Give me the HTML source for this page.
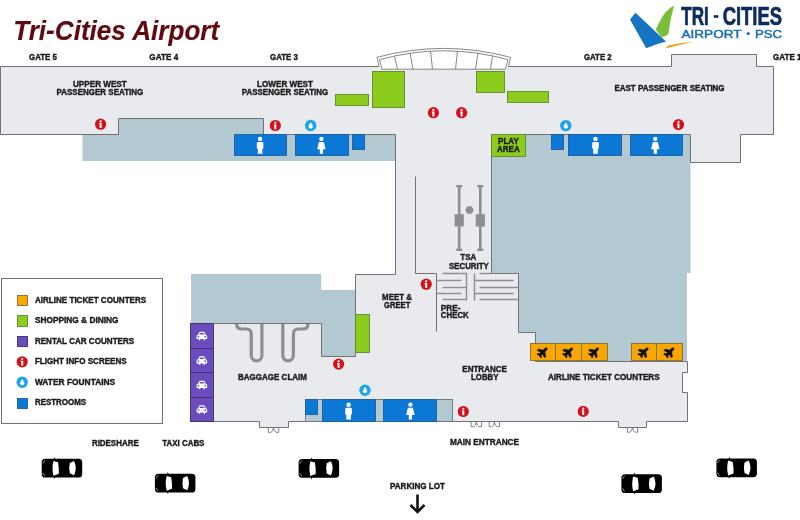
<!DOCTYPE html>
<html><head><meta charset="utf-8"><style>
html,body{margin:0;padding:0;background:#fff;width:800px;height:520px;overflow:hidden}
svg{display:block;position:absolute;left:0;top:0;will-change:transform}
</style></head><body>
<svg width="800" height="520" viewBox="0 0 800 520"><rect x="82.5" y="118" width="313.50" height="43.00" fill="#b3c9d2"/>
<polygon points="191,274 321.2,274 321.2,290 355.2,290 355.2,356.3 191,356.3" fill="#b3c9d2"/>
<polygon points="491,134 690.5,134 690.5,273 687,273 687,361 535,361 535,332 518.5,332 518.5,274 491,274" fill="#b3c9d2"/>
<polygon points="0.5,66.5 671.5,66.5 671.5,54.5 756.5,54.5 756.5,66.5 773.5,66.5 773.5,134.5 740.5,134.5 740.5,162.5 690.5,162.5 690.5,134.5 491.5,134.5 491.5,273.5 518.5,273.5 518.5,332.5 535.5,332.5 535.5,361.5 687.5,361.5 687.5,372.5 682.5,372.5 682.5,392.5 687.5,392.5 687.5,421.5 646.5,421.5 646.5,427.5 618.5,427.5 618.5,421.5 288.5,421.5 288.5,427.5 259.5,427.5 259.5,421.5 191.5,421.5 191.5,323.5 321.5,323.5 321.5,356.5 355.5,356.5 355.5,274.5 395.5,274.5 395.5,134.5 263.5,134.5 263.5,118.5 118.5,118.5 118.5,134.5 0.5,134.5" fill="#e9eaee" stroke="#707276" stroke-width="1.0" stroke-linejoin="miter"/>
<path d="M377,57.3 Q443.7,39.5 510.5,57.3 L508.5,66.5 L505.5,69.2 L382,69.2 L379,66.5 Z" fill="#ffffff"/>
<path d="M377,57.3 Q443.7,39.5 510.5,57.3 L508.5,66.5 M377,57.3 L379,66.5" fill="none" stroke="#707276" stroke-width="0.85"/>
<path d="M379.5,59.6 Q443.7,42 508,59.6 L505.5,69.2 L382,69.2 Z" fill="none" stroke="#707276" stroke-width="0.85"/>
<line x1="394.5" y1="56.3" x2="397.5" y2="69.2" stroke="#707276" stroke-width="0.85"/>
<line x1="410" y1="52.8" x2="413" y2="69.2" stroke="#707276" stroke-width="0.85"/>
<line x1="430.5" y1="51" x2="432.5" y2="69.2" stroke="#707276" stroke-width="0.85"/>
<line x1="457.5" y1="51" x2="455.5" y2="69.2" stroke="#707276" stroke-width="0.85"/>
<line x1="478" y1="52.8" x2="475.5" y2="69.2" stroke="#707276" stroke-width="0.85"/>
<line x1="492.5" y1="55.8" x2="490.5" y2="69.2" stroke="#707276" stroke-width="0.85"/>
<rect x="305.5" y="399.5" width="147.00" height="22.00" fill="#b3c9d2" stroke="#707276" stroke-width="0.9"/>
<polyline points="415.5,176.5 415.5,273.5 436.5,273.5 436.5,331.5" fill="none" stroke="#707276" stroke-width="1.0" stroke-linecap="butt"/>
<polyline points="442.5,273.5 466.5,273.5 466.5,300.5" fill="none" stroke="#8d8e92" stroke-width="1.4" stroke-linecap="butt"/>
<polyline points="436.5,280.5 461.5,280.5" fill="none" stroke="#8d8e92" stroke-width="1.4" stroke-linecap="butt"/>
<polyline points="442.5,287.5 466.5,287.5" fill="none" stroke="#8d8e92" stroke-width="1.4" stroke-linecap="butt"/>
<polyline points="436.5,293.5 461.5,293.5" fill="none" stroke="#8d8e92" stroke-width="1.4" stroke-linecap="butt"/>
<polyline points="442.5,299.5 466.5,299.5" fill="none" stroke="#8d8e92" stroke-width="1.4" stroke-linecap="butt"/>
<polyline points="474.5,273.5 474.5,300.5" fill="none" stroke="#8d8e92" stroke-width="1.4" stroke-linecap="butt"/>
<polyline points="479.5,273.5 491.5,273.5" fill="none" stroke="#8d8e92" stroke-width="1.4" stroke-linecap="butt"/>
<polyline points="474.5,280.5 513.5,280.5" fill="none" stroke="#8d8e92" stroke-width="1.4" stroke-linecap="butt"/>
<polyline points="479.5,287.5 518.5,287.5" fill="none" stroke="#8d8e92" stroke-width="1.4" stroke-linecap="butt"/>
<polyline points="474.5,293.5 513.5,293.5" fill="none" stroke="#8d8e92" stroke-width="1.4" stroke-linecap="butt"/>
<polyline points="479.5,299.5 518.5,299.5" fill="none" stroke="#8d8e92" stroke-width="1.4" stroke-linecap="butt"/>
<rect x="457.9" y="186" width="2.60" height="64.00" fill="#8d8e92"/>
<rect x="456.2" y="185" width="6.00" height="2.30" fill="#8d8e92"/>
<rect x="456.2" y="248.6" width="6.00" height="2.40" fill="#8d8e92"/>
<rect x="454.59999999999997" y="214.2" width="9.20" height="12.30" fill="#8d8e92"/>
<rect x="479.0" y="186" width="2.60" height="64.00" fill="#8d8e92"/>
<rect x="477.3" y="185" width="6.00" height="2.30" fill="#8d8e92"/>
<rect x="477.3" y="248.6" width="6.00" height="2.40" fill="#8d8e92"/>
<rect x="475.7" y="214.2" width="9.20" height="12.30" fill="#8d8e92"/>
<polygon points="473.8,210 471.65,213.7 467.35,213.7 465.2,210 467.35,206.3 471.65,206.3" fill="#8d8e92"/>
<path d="M236.6,323 V324 Q236.6,329 241.6,329 H246.25 Q251.25,329 251.25,334 V355.5 A5.3,5.3 0 0 0 261.9,355.5 V323" fill="none" stroke="#8d8e92" stroke-width="3.2"/>
<path d="M282.8,323 V355.5 A5.3,5.3 0 0 0 293.4,355.5 V334 Q293.4,329 298.4,329 H303 Q308,329 308,324 V323" fill="none" stroke="#8d8e92" stroke-width="3.2"/>
<polyline points="191.5,323.5 321.5,323.5" fill="none" stroke="#707276" stroke-width="1.0" stroke-linecap="butt"/>
<path d="M268.3,427.2 V432.4 H270.7 Q272.90000000000003,431.8 273.5,427.8 Q274.1,431.8 276.3,432.4 H278.7 V427.2" fill="none" stroke="#707276" stroke-width="0.9"/>
<path d="M471.2,421.5 V426.7 H473.59999999999997 Q475.8,426.1 476.4,422.1 Q477.0,426.1 479.2,426.7 H481.59999999999997 V421.5" fill="none" stroke="#707276" stroke-width="0.9"/>
<path d="M489.2,421.5 V426.7 H491.59999999999997 Q493.8,426.1 494.4,422.1 Q495.0,426.1 497.2,426.7 H499.59999999999997 V421.5" fill="none" stroke="#707276" stroke-width="0.9"/>
<path d="M627.3,427 V432.2 H629.6999999999999 Q631.9,431.6 632.5,427.6 Q633.0999999999999,431.6 635.3,432.2 H637.6999999999999 V427" fill="none" stroke="#707276" stroke-width="0.9"/>
<rect x="335.5" y="94.5" width="33.00" height="11.00" fill="#8dcc1c" stroke="#5d8a2a" stroke-width="0.9"/>
<rect x="372.5" y="71.5" width="32.00" height="36.00" fill="#8dcc1c" stroke="#5d8a2a" stroke-width="0.9"/>
<rect x="476.5" y="71.5" width="28.00" height="21.00" fill="#8dcc1c" stroke="#5d8a2a" stroke-width="0.9"/>
<rect x="507.5" y="91.5" width="41.00" height="11.00" fill="#8dcc1c" stroke="#5d8a2a" stroke-width="0.9"/>
<rect x="355.5" y="314.5" width="14.00" height="38.00" fill="#8dcc1c" stroke="#5d8a2a" stroke-width="0.9"/>
<rect x="491.5" y="134.5" width="34.00" height="22.00" fill="#8dcc1c" stroke="#5d8a2a" stroke-width="0.9"/>
<rect x="234.5" y="134.5" width="52.00" height="21.00" fill="#0b78d6" stroke="#1d5f9e" stroke-width="0.9"/>
<rect x="295.5" y="134.5" width="53.00" height="21.00" fill="#0b78d6" stroke="#1d5f9e" stroke-width="0.9"/>
<rect x="352.5" y="134.5" width="12.00" height="15.00" fill="#0b78d6" stroke="#1d5f9e" stroke-width="0.9"/>
<rect x="551.5" y="134.5" width="12.00" height="15.00" fill="#0b78d6" stroke="#1d5f9e" stroke-width="0.9"/>
<rect x="568.5" y="134.5" width="53.00" height="21.00" fill="#0b78d6" stroke="#1d5f9e" stroke-width="0.9"/>
<rect x="630.5" y="134.5" width="52.00" height="21.00" fill="#0b78d6" stroke="#1d5f9e" stroke-width="0.9"/>
<rect x="305.5" y="399.5" width="12.00" height="15.00" fill="#0b78d6" stroke="#1d5f9e" stroke-width="0.9"/>
<rect x="322.5" y="399.5" width="53.00" height="22.00" fill="#0b78d6" stroke="#1d5f9e" stroke-width="0.9"/>
<rect x="383.5" y="399.5" width="53.00" height="22.00" fill="#0b78d6" stroke="#1d5f9e" stroke-width="0.9"/>
<rect x="530.5" y="343.5" width="25.00" height="17.00" fill="#f8a600" stroke="#8a6a2a" stroke-width="0.9"/>
<rect x="555.5" y="343.5" width="26.00" height="17.00" fill="#f8a600" stroke="#8a6a2a" stroke-width="0.9"/>
<rect x="581.5" y="343.5" width="26.00" height="17.00" fill="#f8a600" stroke="#8a6a2a" stroke-width="0.9"/>
<rect x="631.5" y="343.5" width="25.00" height="17.00" fill="#f8a600" stroke="#8a6a2a" stroke-width="0.9"/>
<rect x="656.5" y="343.5" width="26.00" height="17.00" fill="#f8a600" stroke="#8a6a2a" stroke-width="0.9"/>
<rect x="190.5" y="323.5" width="23.00" height="25.00" fill="#6a4cbd" stroke="#3b2f6e" stroke-width="0.9"/>
<rect x="190.5" y="348.5" width="23.00" height="24.00" fill="#6a4cbd" stroke="#3b2f6e" stroke-width="0.9"/>
<rect x="190.5" y="372.5" width="23.00" height="25.00" fill="#6a4cbd" stroke="#3b2f6e" stroke-width="0.9"/>
<rect x="190.5" y="397.5" width="23.00" height="24.00" fill="#6a4cbd" stroke="#3b2f6e" stroke-width="0.9"/>
<circle cx="100.6" cy="124.2" r="5.6" fill="#d1121b"/>
<circle cx="100.6" cy="121.45" r="1.1" fill="#fff"/>
<path d="M99.0,123.10000000000001 H101.6 V127.9 H99.6 V124.0 H99.0 Z" fill="#fff"/>
<circle cx="275.3" cy="125.5" r="5.6" fill="#d1121b"/>
<circle cx="275.3" cy="122.75" r="1.1" fill="#fff"/>
<path d="M273.7,124.4 H276.3 V129.2 H274.3 V125.3 H273.7 Z" fill="#fff"/>
<circle cx="433.4" cy="112.7" r="5.6" fill="#d1121b"/>
<circle cx="433.4" cy="109.95" r="1.1" fill="#fff"/>
<path d="M431.79999999999995,111.60000000000001 H434.4 V116.4 H432.4 V112.5 H431.79999999999995 Z" fill="#fff"/>
<circle cx="461.6" cy="112.7" r="5.6" fill="#d1121b"/>
<circle cx="461.6" cy="109.95" r="1.1" fill="#fff"/>
<path d="M460.0,111.60000000000001 H462.6 V116.4 H460.6 V112.5 H460.0 Z" fill="#fff"/>
<circle cx="678.5" cy="124.6" r="5.6" fill="#d1121b"/>
<circle cx="678.5" cy="121.85" r="1.1" fill="#fff"/>
<path d="M676.9,123.5 H679.5 V128.29999999999998 H677.5 V124.39999999999999 H676.9 Z" fill="#fff"/>
<circle cx="426.2" cy="284.2" r="5.6" fill="#d1121b"/>
<circle cx="426.2" cy="281.45" r="1.1" fill="#fff"/>
<path d="M424.59999999999997,283.09999999999997 H427.2 V287.9 H425.2 V284.0 H424.59999999999997 Z" fill="#fff"/>
<circle cx="338.6" cy="364.1" r="5.6" fill="#d1121b"/>
<circle cx="338.6" cy="361.35" r="1.1" fill="#fff"/>
<path d="M337.0,363.0 H339.6 V367.8 H337.6 V363.90000000000003 H337.0 Z" fill="#fff"/>
<circle cx="463.3" cy="411.5" r="5.6" fill="#d1121b"/>
<circle cx="463.3" cy="408.75" r="1.1" fill="#fff"/>
<path d="M461.7,410.4 H464.3 V415.2 H462.3 V411.3 H461.7 Z" fill="#fff"/>
<circle cx="583.2" cy="411.4" r="5.6" fill="#d1121b"/>
<circle cx="583.2" cy="408.65" r="1.1" fill="#fff"/>
<path d="M581.6,410.29999999999995 H584.2 V415.09999999999997 H582.2 V411.2 H581.6 Z" fill="#fff"/>
<circle cx="310.7" cy="125.5" r="5.7" fill="#1aa6e8"/>
<path d="M310.7,122.3 Q313.3,125.8 312.8,127.0 A2.2,2.2 0 0 1 308.59999999999997,127.0 Q308.09999999999997,125.8 310.7,122.3 Z" fill="#fff"/>
<circle cx="565.8" cy="125.6" r="5.7" fill="#1aa6e8"/>
<path d="M565.8,122.39999999999999 Q568.4,125.89999999999999 567.9,127.1 A2.2,2.2 0 0 1 563.6999999999999,127.1 Q563.1999999999999,125.89999999999999 565.8,122.39999999999999 Z" fill="#fff"/>
<circle cx="365" cy="390.3" r="5.7" fill="#1aa6e8"/>
<path d="M365,387.1 Q367.6,390.6 367.1,391.8 A2.2,2.2 0 0 1 362.9,391.8 Q362.4,390.6 365,387.1 Z" fill="#fff"/>
<circle cx="260.1" cy="138.9" r="2.2" fill="#fff"/>
<path d="M256.8,143.20000000000002 Q256.8,141.9 258.1,141.9 H262.1 Q263.40000000000003,141.9 263.40000000000003,143.20000000000002 V148.60000000000002 H262.40000000000003 V153.70000000000002 H257.8 V148.60000000000002 H256.8 Z" fill="#fff"/>
<circle cx="321.4" cy="138.9" r="2.15" fill="#fff"/>
<path d="M318.9,141.9 H323.9 L325.59999999999997,149.3 H323.0 V153.70000000000002 H319.79999999999995 V149.3 H317.2 Z" fill="#fff"/>
<circle cx="595.5" cy="138.9" r="2.2" fill="#fff"/>
<path d="M592.2,143.20000000000002 Q592.2,141.9 593.5,141.9 H597.5 Q598.8,141.9 598.8,143.20000000000002 V148.60000000000002 H597.8 V153.70000000000002 H593.2 V148.60000000000002 H592.2 Z" fill="#fff"/>
<circle cx="655.3" cy="138.9" r="2.15" fill="#fff"/>
<path d="M652.8,141.9 H657.8 L659.5,149.3 H656.9 V153.70000000000002 H653.6999999999999 V149.3 H651.0999999999999 Z" fill="#fff"/>
<circle cx="348.6" cy="404.70000000000005" r="2.2" fill="#fff"/>
<path d="M345.3,409.0 Q345.3,407.70000000000005 346.6,407.70000000000005 H350.6 Q351.90000000000003,407.70000000000005 351.90000000000003,409.0 V414.40000000000003 H350.90000000000003 V419.5 H346.3 V414.40000000000003 H345.3 Z" fill="#fff"/>
<circle cx="410.4" cy="404.70000000000005" r="2.15" fill="#fff"/>
<path d="M407.9,407.70000000000005 H412.9 L414.59999999999997,415.1 H412.0 V419.5 H408.79999999999995 V415.1 H406.2 Z" fill="#fff"/>
<g transform="translate(201.85,336.2)"><path d="M-5.3,0.2 Q-5.3,-1.3 -3.8,-1.5 L-2.7,-3.9 Q-2.4,-4.4 -1.8,-4.4 H1.8 Q2.4,-4.4 2.7,-3.9 L3.8,-1.5 Q5.3,-1.3 5.3,0.2 V2.7 H3.1 V4.0 H1.6 V2.7 H-1.6 V4.0 H-3.1 V2.7 H-5.3 Z" fill="#fff"/><path d="M-2.6,-1.6 L-1.9,-3.3 H1.9 L2.6,-1.6 Z" fill="#6a4cbd"/><circle cx="-3.4" cy="0.5" r="0.85" fill="#6a4cbd"/><circle cx="3.4" cy="0.5" r="0.85" fill="#6a4cbd"/></g>
<g transform="translate(201.85,360.7)"><path d="M-5.3,0.2 Q-5.3,-1.3 -3.8,-1.5 L-2.7,-3.9 Q-2.4,-4.4 -1.8,-4.4 H1.8 Q2.4,-4.4 2.7,-3.9 L3.8,-1.5 Q5.3,-1.3 5.3,0.2 V2.7 H3.1 V4.0 H1.6 V2.7 H-1.6 V4.0 H-3.1 V2.7 H-5.3 Z" fill="#fff"/><path d="M-2.6,-1.6 L-1.9,-3.3 H1.9 L2.6,-1.6 Z" fill="#6a4cbd"/><circle cx="-3.4" cy="0.5" r="0.85" fill="#6a4cbd"/><circle cx="3.4" cy="0.5" r="0.85" fill="#6a4cbd"/></g>
<g transform="translate(201.85,385.2)"><path d="M-5.3,0.2 Q-5.3,-1.3 -3.8,-1.5 L-2.7,-3.9 Q-2.4,-4.4 -1.8,-4.4 H1.8 Q2.4,-4.4 2.7,-3.9 L3.8,-1.5 Q5.3,-1.3 5.3,0.2 V2.7 H3.1 V4.0 H1.6 V2.7 H-1.6 V4.0 H-3.1 V2.7 H-5.3 Z" fill="#fff"/><path d="M-2.6,-1.6 L-1.9,-3.3 H1.9 L2.6,-1.6 Z" fill="#6a4cbd"/><circle cx="-3.4" cy="0.5" r="0.85" fill="#6a4cbd"/><circle cx="3.4" cy="0.5" r="0.85" fill="#6a4cbd"/></g>
<g transform="translate(201.85,409.7)"><path d="M-5.3,0.2 Q-5.3,-1.3 -3.8,-1.5 L-2.7,-3.9 Q-2.4,-4.4 -1.8,-4.4 H1.8 Q2.4,-4.4 2.7,-3.9 L3.8,-1.5 Q5.3,-1.3 5.3,0.2 V2.7 H3.1 V4.0 H1.6 V2.7 H-1.6 V4.0 H-3.1 V2.7 H-5.3 Z" fill="#fff"/><path d="M-2.6,-1.6 L-1.9,-3.3 H1.9 L2.6,-1.6 Z" fill="#6a4cbd"/><circle cx="-3.4" cy="0.5" r="0.85" fill="#6a4cbd"/><circle cx="3.4" cy="0.5" r="0.85" fill="#6a4cbd"/></g>
<g transform="translate(542.9,352.1) rotate(45) scale(1.0)"><path d="M0,-5.8 C1,-5.8 1.3,-4.6 1.3,-3.5 L1.3,-1.6 L5.3,1.0 L5.3,2.9 L1.3,1.7 L1.3,3.4 L2.7,4.5 L2.7,5.8 L0,5.1 L-2.7,5.8 L-2.7,4.5 L-1.3,3.4 L-1.3,1.7 L-5.3,2.9 L-5.3,1.0 L-1.3,-1.6 L-1.3,-3.5 C-1.3,-4.6 -1,-5.8 0,-5.8 Z" fill="#111" stroke="#111" stroke-width="0.4" stroke-linejoin="round"/></g>
<g transform="translate(568.4,352.1) rotate(45) scale(1.0)"><path d="M0,-5.8 C1,-5.8 1.3,-4.6 1.3,-3.5 L1.3,-1.6 L5.3,1.0 L5.3,2.9 L1.3,1.7 L1.3,3.4 L2.7,4.5 L2.7,5.8 L0,5.1 L-2.7,5.8 L-2.7,4.5 L-1.3,3.4 L-1.3,1.7 L-5.3,2.9 L-5.3,1.0 L-1.3,-1.6 L-1.3,-3.5 C-1.3,-4.6 -1,-5.8 0,-5.8 Z" fill="#111" stroke="#111" stroke-width="0.4" stroke-linejoin="round"/></g>
<g transform="translate(594.3,352.1) rotate(45) scale(1.0)"><path d="M0,-5.8 C1,-5.8 1.3,-4.6 1.3,-3.5 L1.3,-1.6 L5.3,1.0 L5.3,2.9 L1.3,1.7 L1.3,3.4 L2.7,4.5 L2.7,5.8 L0,5.1 L-2.7,5.8 L-2.7,4.5 L-1.3,3.4 L-1.3,1.7 L-5.3,2.9 L-5.3,1.0 L-1.3,-1.6 L-1.3,-3.5 C-1.3,-4.6 -1,-5.8 0,-5.8 Z" fill="#111" stroke="#111" stroke-width="0.4" stroke-linejoin="round"/></g>
<g transform="translate(643.8,352.1) rotate(45) scale(1.0)"><path d="M0,-5.8 C1,-5.8 1.3,-4.6 1.3,-3.5 L1.3,-1.6 L5.3,1.0 L5.3,2.9 L1.3,1.7 L1.3,3.4 L2.7,4.5 L2.7,5.8 L0,5.1 L-2.7,5.8 L-2.7,4.5 L-1.3,3.4 L-1.3,1.7 L-5.3,2.9 L-5.3,1.0 L-1.3,-1.6 L-1.3,-3.5 C-1.3,-4.6 -1,-5.8 0,-5.8 Z" fill="#111" stroke="#111" stroke-width="0.4" stroke-linejoin="round"/></g>
<g transform="translate(669.6,352.1) rotate(45) scale(1.0)"><path d="M0,-5.8 C1,-5.8 1.3,-4.6 1.3,-3.5 L1.3,-1.6 L5.3,1.0 L5.3,2.9 L1.3,1.7 L1.3,3.4 L2.7,4.5 L2.7,5.8 L0,5.1 L-2.7,5.8 L-2.7,4.5 L-1.3,3.4 L-1.3,1.7 L-5.3,2.9 L-5.3,1.0 L-1.3,-1.6 L-1.3,-3.5 C-1.3,-4.6 -1,-5.8 0,-5.8 Z" fill="#111" stroke="#111" stroke-width="0.4" stroke-linejoin="round"/></g>
<g transform="translate(41.7,458.7)"><rect x="0" y="0" width="40.5" height="18.8" rx="3.6" fill="#000"/><path d="M12.1,0.5 L12.9,-1.6 L13.7,0.5 Z M12.1,18.3 L12.9,20.4 L13.7,18.3 Z" fill="#000"/><path d="M11.8,2.2 L16.3,3.6 Q17.5,9.8 17.1,15.1 L11.8,17.1 Q9.8,9.7 11.8,2.2 Z" fill="#fff"/><path d="M28.1,4.2 L32.3,2.2 Q35.8,9.3 32.3,16.5 L28.1,14.6 Q26.9,9.4 28.1,4.2 Z" fill="#fff"/><path d="M1.2,4.6 Q1.6,2.6 3.4,1.6 M1.2,14.2 Q1.6,16.2 3.4,17.2" stroke="#fff" stroke-width="0.6" fill="none"/></g>
<g transform="translate(154.9,473.7)"><rect x="0" y="0" width="40.5" height="18.8" rx="3.6" fill="#000"/><path d="M12.1,0.5 L12.9,-1.6 L13.7,0.5 Z M12.1,18.3 L12.9,20.4 L13.7,18.3 Z" fill="#000"/><path d="M11.8,2.2 L16.3,3.6 Q17.5,9.8 17.1,15.1 L11.8,17.1 Q9.8,9.7 11.8,2.2 Z" fill="#fff"/><path d="M28.1,4.2 L32.3,2.2 Q35.8,9.3 32.3,16.5 L28.1,14.6 Q26.9,9.4 28.1,4.2 Z" fill="#fff"/><path d="M1.2,4.6 Q1.6,2.6 3.4,1.6 M1.2,14.2 Q1.6,16.2 3.4,17.2" stroke="#fff" stroke-width="0.6" fill="none"/></g>
<g transform="translate(298.6,459.0)"><rect x="0" y="0" width="40.5" height="18.8" rx="3.6" fill="#000"/><path d="M12.1,0.5 L12.9,-1.6 L13.7,0.5 Z M12.1,18.3 L12.9,20.4 L13.7,18.3 Z" fill="#000"/><path d="M11.8,2.2 L16.3,3.6 Q17.5,9.8 17.1,15.1 L11.8,17.1 Q9.8,9.7 11.8,2.2 Z" fill="#fff"/><path d="M28.1,4.2 L32.3,2.2 Q35.8,9.3 32.3,16.5 L28.1,14.6 Q26.9,9.4 28.1,4.2 Z" fill="#fff"/><path d="M1.2,4.6 Q1.6,2.6 3.4,1.6 M1.2,14.2 Q1.6,16.2 3.4,17.2" stroke="#fff" stroke-width="0.6" fill="none"/></g>
<g transform="translate(621.4,474.2)"><rect x="0" y="0" width="40.5" height="18.8" rx="3.6" fill="#000"/><path d="M12.1,0.5 L12.9,-1.6 L13.7,0.5 Z M12.1,18.3 L12.9,20.4 L13.7,18.3 Z" fill="#000"/><path d="M11.8,2.2 L16.3,3.6 Q17.5,9.8 17.1,15.1 L11.8,17.1 Q9.8,9.7 11.8,2.2 Z" fill="#fff"/><path d="M28.1,4.2 L32.3,2.2 Q35.8,9.3 32.3,16.5 L28.1,14.6 Q26.9,9.4 28.1,4.2 Z" fill="#fff"/><path d="M1.2,4.6 Q1.6,2.6 3.4,1.6 M1.2,14.2 Q1.6,16.2 3.4,17.2" stroke="#fff" stroke-width="0.6" fill="none"/></g>
<g transform="translate(716.4,458.4)"><rect x="0" y="0" width="40.5" height="18.8" rx="3.6" fill="#000"/><path d="M12.1,0.5 L12.9,-1.6 L13.7,0.5 Z M12.1,18.3 L12.9,20.4 L13.7,18.3 Z" fill="#000"/><path d="M11.8,2.2 L16.3,3.6 Q17.5,9.8 17.1,15.1 L11.8,17.1 Q9.8,9.7 11.8,2.2 Z" fill="#fff"/><path d="M28.1,4.2 L32.3,2.2 Q35.8,9.3 32.3,16.5 L28.1,14.6 Q26.9,9.4 28.1,4.2 Z" fill="#fff"/><path d="M1.2,4.6 Q1.6,2.6 3.4,1.6 M1.2,14.2 Q1.6,16.2 3.4,17.2" stroke="#fff" stroke-width="0.6" fill="none"/></g>
<path d="M417.5,494.5 V512" stroke="#111" stroke-width="2.6" fill="none"/>
<path d="M410.5,505 L417.5,512 L424.5,505" stroke="#111" stroke-width="2.6" fill="none"/>
<rect x="1.5" y="278.5" width="161.00" height="145.00" fill="#ffffff" stroke="#707276" stroke-width="1.0"/>
<rect x="17.5" y="295.5" width="10.00" height="10.00" fill="#f8a600" stroke="#8a6a2a" stroke-width="0.9"/>
<rect x="17.5" y="315.5" width="10.00" height="11.00" fill="#8dcc1c" stroke="#5d8a2a" stroke-width="0.9"/>
<rect x="17.5" y="336.5" width="10.00" height="10.00" fill="#6a4cbd" stroke="#3b2f6e" stroke-width="0.9"/>
<circle cx="22.2" cy="361.8" r="5.6" fill="#d1121b"/>
<circle cx="22.2" cy="359.05" r="1.1" fill="#fff"/>
<path d="M20.599999999999998,360.7 H23.2 V365.5 H21.2 V361.6 H20.599999999999998 Z" fill="#fff"/>
<circle cx="22.2" cy="382.3" r="5.7" fill="#1aa6e8"/>
<path d="M22.2,379.1 Q24.8,382.6 24.3,383.8 A2.2,2.2 0 0 1 20.099999999999998,383.8 Q19.599999999999998,382.6 22.2,379.1 Z" fill="#fff"/>
<rect x="17.5" y="398.5" width="10.00" height="10.00" fill="#0b78d6" stroke="#1d5f9e" stroke-width="0.9"/>
<text x="29" y="59.8" font-family="Liberation Sans" font-weight="bold" font-style="normal" font-size="8.2" fill="#1b1b1d" stroke="#1b1b1d" stroke-width="0.38" textLength="28.00" lengthAdjust="spacingAndGlyphs">GATE 5</text>
<text x="149.3" y="59.8" font-family="Liberation Sans" font-weight="bold" font-style="normal" font-size="8.2" fill="#1b1b1d" stroke="#1b1b1d" stroke-width="0.38" textLength="28.90" lengthAdjust="spacingAndGlyphs">GATE 4</text>
<text x="270" y="59.8" font-family="Liberation Sans" font-weight="bold" font-style="normal" font-size="8.2" fill="#1b1b1d" stroke="#1b1b1d" stroke-width="0.38" textLength="28.00" lengthAdjust="spacingAndGlyphs">GATE 3</text>
<text x="584" y="59.8" font-family="Liberation Sans" font-weight="bold" font-style="normal" font-size="8.2" fill="#1b1b1d" stroke="#1b1b1d" stroke-width="0.38" textLength="27.60" lengthAdjust="spacingAndGlyphs">GATE 2</text>
<text x="773" y="59.8" font-family="Liberation Sans" font-weight="bold" font-style="normal" font-size="8.2" fill="#1b1b1d" stroke="#1b1b1d" stroke-width="0.38" textLength="28.50" lengthAdjust="spacingAndGlyphs">GATE 1</text>
<text x="73" y="87.0" font-family="Liberation Sans" font-weight="bold" font-style="normal" font-size="8.2" fill="#1b1b1d" stroke="#1b1b1d" stroke-width="0.38" textLength="53.75" lengthAdjust="spacingAndGlyphs">UPPER WEST</text>
<text x="56.5" y="95.1" font-family="Liberation Sans" font-weight="bold" font-style="normal" font-size="8.2" fill="#1b1b1d" stroke="#1b1b1d" stroke-width="0.38" textLength="86.75" lengthAdjust="spacingAndGlyphs">PASSENGER SEATING</text>
<text x="257" y="87.0" font-family="Liberation Sans" font-weight="bold" font-style="normal" font-size="8.2" fill="#1b1b1d" stroke="#1b1b1d" stroke-width="0.38" textLength="56.00" lengthAdjust="spacingAndGlyphs">LOWER WEST</text>
<text x="241.75" y="95.1" font-family="Liberation Sans" font-weight="bold" font-style="normal" font-size="8.2" fill="#1b1b1d" stroke="#1b1b1d" stroke-width="0.38" textLength="86.50" lengthAdjust="spacingAndGlyphs">PASSENGER SEATING</text>
<text x="614.4" y="91.1" font-family="Liberation Sans" font-weight="bold" font-style="normal" font-size="8.2" fill="#1b1b1d" stroke="#1b1b1d" stroke-width="0.38" textLength="110.20" lengthAdjust="spacingAndGlyphs">EAST PASSENGER SEATING</text>
<text x="498" y="143.7" font-family="Liberation Sans" font-weight="bold" font-style="normal" font-size="8.2" fill="#1b1b1d" stroke="#1b1b1d" stroke-width="0.38" textLength="20.80" lengthAdjust="spacingAndGlyphs">PLAY</text>
<text x="497" y="151.8" font-family="Liberation Sans" font-weight="bold" font-style="normal" font-size="8.2" fill="#1b1b1d" stroke="#1b1b1d" stroke-width="0.38" textLength="22.70" lengthAdjust="spacingAndGlyphs">AREA</text>
<text x="460.3" y="260.3" font-family="Liberation Sans" font-weight="bold" font-style="normal" font-size="8.2" fill="#1b1b1d" stroke="#1b1b1d" stroke-width="0.38" textLength="16.00" lengthAdjust="spacingAndGlyphs">TSA</text>
<text x="449" y="268.7" font-family="Liberation Sans" font-weight="bold" font-style="normal" font-size="8.2" fill="#1b1b1d" stroke="#1b1b1d" stroke-width="0.38" textLength="39.80" lengthAdjust="spacingAndGlyphs">SECURITY</text>
<text x="382.1" y="299.7" font-family="Liberation Sans" font-weight="bold" font-style="normal" font-size="8.2" fill="#1b1b1d" stroke="#1b1b1d" stroke-width="0.38" textLength="29.80" lengthAdjust="spacingAndGlyphs">MEET &amp;</text>
<text x="384" y="308.0" font-family="Liberation Sans" font-weight="bold" font-style="normal" font-size="8.2" fill="#1b1b1d" stroke="#1b1b1d" stroke-width="0.38" textLength="26.40" lengthAdjust="spacingAndGlyphs">GREET</text>
<text x="440.8" y="311.0" font-family="Liberation Sans" font-weight="bold" font-style="normal" font-size="8.2" fill="#1b1b1d" stroke="#1b1b1d" stroke-width="0.38" textLength="19.70" lengthAdjust="spacingAndGlyphs">PRE-</text>
<text x="440.8" y="318.3" font-family="Liberation Sans" font-weight="bold" font-style="normal" font-size="8.2" fill="#1b1b1d" stroke="#1b1b1d" stroke-width="0.38" textLength="28.00" lengthAdjust="spacingAndGlyphs">CHECK</text>
<text x="238" y="379.9" font-family="Liberation Sans" font-weight="bold" font-style="normal" font-size="8.2" fill="#1b1b1d" stroke="#1b1b1d" stroke-width="0.38" textLength="69.00" lengthAdjust="spacingAndGlyphs">BAGGAGE CLAIM</text>
<text x="462.3" y="371.8" font-family="Liberation Sans" font-weight="bold" font-style="normal" font-size="8.2" fill="#1b1b1d" stroke="#1b1b1d" stroke-width="0.38" textLength="44.60" lengthAdjust="spacingAndGlyphs">ENTRANCE</text>
<text x="471" y="379.9" font-family="Liberation Sans" font-weight="bold" font-style="normal" font-size="8.2" fill="#1b1b1d" stroke="#1b1b1d" stroke-width="0.38" textLength="27.50" lengthAdjust="spacingAndGlyphs">LOBBY</text>
<text x="548" y="380.1" font-family="Liberation Sans" font-weight="bold" font-style="normal" font-size="8.2" fill="#1b1b1d" stroke="#1b1b1d" stroke-width="0.38" textLength="111.60" lengthAdjust="spacingAndGlyphs">AIRLINE TICKET COUNTERS</text>
<text x="450" y="445.1" font-family="Liberation Sans" font-weight="bold" font-style="normal" font-size="8.2" fill="#1b1b1d" stroke="#1b1b1d" stroke-width="0.38" textLength="69.00" lengthAdjust="spacingAndGlyphs">MAIN ENTRANCE</text>
<text x="91.9" y="445.7" font-family="Liberation Sans" font-weight="bold" font-style="normal" font-size="8.2" fill="#1b1b1d" stroke="#1b1b1d" stroke-width="0.38" textLength="46.80" lengthAdjust="spacingAndGlyphs">RIDESHARE</text>
<text x="162.3" y="445.7" font-family="Liberation Sans" font-weight="bold" font-style="normal" font-size="8.2" fill="#1b1b1d" stroke="#1b1b1d" stroke-width="0.38" textLength="42.10" lengthAdjust="spacingAndGlyphs">TAXI CABS</text>
<text x="390" y="489.0" font-family="Liberation Sans" font-weight="bold" font-style="normal" font-size="8.2" fill="#1b1b1d" stroke="#1b1b1d" stroke-width="0.38" textLength="55.00" lengthAdjust="spacingAndGlyphs">PARKING LOT</text>
<text x="34.9" y="302.6" font-family="Liberation Sans" font-weight="bold" font-style="normal" font-size="8.2" fill="#1b1b1d" stroke="#1b1b1d" stroke-width="0.38" textLength="111.30" lengthAdjust="spacingAndGlyphs">AIRLINE TICKET COUNTERS</text>
<text x="34.9" y="323.1" font-family="Liberation Sans" font-weight="bold" font-style="normal" font-size="8.2" fill="#1b1b1d" stroke="#1b1b1d" stroke-width="0.38" textLength="83.60" lengthAdjust="spacingAndGlyphs">SHOPPING &amp; DINING</text>
<text x="34.9" y="343.6" font-family="Liberation Sans" font-weight="bold" font-style="normal" font-size="8.2" fill="#1b1b1d" stroke="#1b1b1d" stroke-width="0.38" textLength="99.30" lengthAdjust="spacingAndGlyphs">RENTAL CAR COUNTERS</text>
<text x="34.9" y="364.1" font-family="Liberation Sans" font-weight="bold" font-style="normal" font-size="8.2" fill="#1b1b1d" stroke="#1b1b1d" stroke-width="0.38" textLength="91.80" lengthAdjust="spacingAndGlyphs">FLIGHT INFO SCREENS</text>
<text x="34.9" y="384.6" font-family="Liberation Sans" font-weight="bold" font-style="normal" font-size="8.2" fill="#1b1b1d" stroke="#1b1b1d" stroke-width="0.38" textLength="80.30" lengthAdjust="spacingAndGlyphs">WATER FOUNTAINS</text>
<text x="34.9" y="405.1" font-family="Liberation Sans" font-weight="bold" font-style="normal" font-size="8.2" fill="#1b1b1d" stroke="#1b1b1d" stroke-width="0.38" textLength="51.30" lengthAdjust="spacingAndGlyphs">RESTROOMS</text>
<text x="13.2" y="40.4" font-family="Liberation Sans" font-weight="bold" font-style="italic" font-size="27.5" fill="#5f0a0e" stroke="#5f0a0e" stroke-width="0.15" textLength="206.00" lengthAdjust="spacingAndGlyphs">Tri-Cities Airport</text>
<path d="M630,19.5 L635.5,12.7 L666,41.5 Q656,44 646.2,48.2 Z" fill="#1574c4"/>
<path d="M674,5.5 Q665,10 659.5,22 L655.7,29.6 Q659,34 661.5,37.2 Q667,35.5 668.4,33.9 Q670,20 674,5.5 Z" fill="#79bd3c"/>
<path d="M665.2,48.6 L668.4,45.2 Q681,42.6 693,41.8 Q682,44.6 665.2,48.6 Z" fill="#f0a828"/>
<text x="681.25" y="25" font-family="Liberation Sans" font-weight="bold" font-style="normal" font-size="25" fill="#0e2b5e" stroke="#0e2b5e" stroke-width="0.7" textLength="27.55" lengthAdjust="spacingAndGlyphs">TRI</text>
<rect x="713.8" y="15.2" width="4.6" height="2.6" fill="#0e2b5e"/>
<text x="722.7" y="25" font-family="Liberation Sans" font-weight="bold" font-style="normal" font-size="25" fill="#0e2b5e" stroke="#0e2b5e" stroke-width="0.7" textLength="59.30" lengthAdjust="spacingAndGlyphs">CITIES</text>
<text x="681.5" y="37.5" font-family="Liberation Sans" font-weight="normal" font-style="normal" font-size="11.3" fill="#1f6db3" stroke="#1f6db3" stroke-width="0.45" textLength="60.00" lengthAdjust="spacingAndGlyphs">AIRPORT</text>
<circle cx="748.2" cy="33.6" r="1.6" fill="#1f6db3"/>
<text x="755" y="37.5" font-family="Liberation Sans" font-weight="normal" font-style="normal" font-size="11.3" fill="#1f6db3" stroke="#1f6db3" stroke-width="0.45" textLength="27.00" lengthAdjust="spacingAndGlyphs">PSC</text></svg>
</body></html>
